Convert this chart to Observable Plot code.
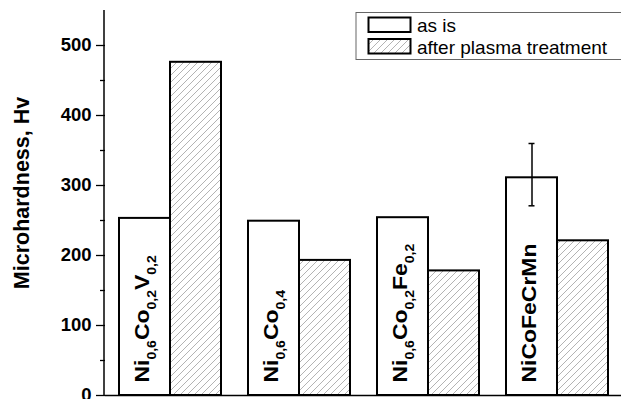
<!DOCTYPE html>
<html>
<head>
<meta charset="utf-8">
<script src="https://cdn.jsdelivr.net/npm/d3@7"></script>
<script src="https://cdn.jsdelivr.net/npm/@observablehq/plot@0.6"></script>
<style>
  html, body { margin: 0; padding: 0; background: white; }
  #chart { width: 621px; height: 399px; overflow: hidden; }
</style>
</head>
<body>
<div id="chart"></div>
<script>
// ---- data ----
const groups = ["Ni_{0,6}Co_{0,2}V_{0,2}", "Ni_{0,6}Co_{0,4}", "Ni_{0,6}Co_{0,2}Fe_{0,2}", "NiCoFeCrMn"];
const treatments = ["as is", "after plasma treatment"];
const asIs = [253, 249, 254, 311];
const afterPlasma = [476, 193, 178, 221];
const errorLow = [null, null, null, 271];
const errorHigh = [null, null, null, 360];
const majorTicks = [0, 100, 200, 300, 400, 500];
const minorTicks = [50, 150, 250, 350, 450];
const yLabel = "Microhardness, Hv";

// ---- tables ----
const rows = groups.flatMap((g, i) => [
  {group: g, treatment: treatments[0], value: asIs[i]},
  {group: g, treatment: treatments[1], value: afterPlasma[i]}
]);
const asRows = rows.filter(d => d.treatment === treatments[0]);
const afterRows = rows.filter(d => d.treatment === treatments[1]);
const errRows = groups.map((g, i) => ({group: g, treatment: treatments[0], low: errorLow[i], high: errorHigh[i]}))
  .filter(d => d.low != null);

const font = "'Liberation Sans', Arial, Helvetica, sans-serif";

const plot = Plot.plot({
  width: 621,
  height: 399,
  marginLeft: 104,
  marginRight: 0,
  marginTop: 10,
  marginBottom: 4,
  style: {fontFamily: font, background: "white", overflow: "visible"},
  fx: {domain: groups, padding: 0, axis: null, label: null},
  x: {domain: treatments, paddingInner: 0, paddingOuter: 0.243, axis: null, label: null},
  y: {domain: [0, 550], axis: null, label: null},
  marks: [
    Plot.barY(asRows, {fx: "group", x: "treatment", y: "value", fill: "white", stroke: "black", strokeWidth: 2}),
    Plot.barY(afterRows, {fx: "group", x: "treatment", y: "value", fill: "url(#hatch)", stroke: "black", strokeWidth: 2}),
    Plot.ruleX(errRows, {fx: "group", x: "treatment", y1: "low", y2: "high", stroke: "black", strokeWidth: 1.5}),
    Plot.tickY(errRows, {fx: "group", x: "treatment", y: "low", insetLeft: 22.5, insetRight: 22.5, stroke: "black", strokeWidth: 1.5}),
    Plot.tickY(errRows, {fx: "group", x: "treatment", y: "high", insetLeft: 22.5, insetRight: 22.5, stroke: "black", strokeWidth: 1.5}),
    Plot.text(asRows, {fx: "group", x: "treatment", y: 0, text: "group", rotate: -90, textAnchor: "start",
      dy: -13, dx: -3, fontSize: 20.5, fontWeight: "bold", fill: "black", className: "barlabel"}),
    Plot.ruleY([0], {stroke: "black", strokeWidth: 1.5}),
    Plot.axisY({ticks: majorTicks, tickSize: 9, tickPadding: 5, fontSize: 18.5, fontWeight: "bold",
      stroke: "black", strokeWidth: 1.3, fill: "black", label: null}),
    Plot.axisY({ticks: minorTicks, tickSize: 5, tickFormat: () => "", stroke: "black", strokeWidth: 1.3, label: null})
  ]
});

const svg = d3.select(plot);
const ns = "http://www.w3.org/2000/svg";

// hatch pattern
const defs = svg.insert("defs", ":first-child");
const pat = defs.append("pattern").attr("id", "hatch").attr("patternUnits", "userSpaceOnUse")
  .attr("width", 7).attr("height", 7);
pat.append("rect").attr("width", 7).attr("height", 7).attr("fill", "white");
pat.append("path").attr("d", "M-1,1 l2,-2 M0,7 l7,-7 M6,8 l2,-2")
  .attr("stroke", "#a0a0a0").attr("stroke-width", 0.8);

// rich bar labels with subscripts
plot.querySelectorAll(".barlabel text").forEach(t => {
  const s = t.textContent;
  const parts = s.split(/(_\{[^}]*\})/).filter(Boolean);
  t.textContent = "";
  let shifted = false;
  for (const p of parts) {
    const ts = document.createElementNS(ns, "tspan");
    if (p.startsWith("_{")) {
      ts.textContent = p.slice(2, -1);
      ts.setAttribute("font-size", 12.5);
      if (!shifted) ts.setAttribute("dy", 7);
      shifted = true;
    } else {
      ts.textContent = p;
      if (shifted) ts.setAttribute("dy", -7);
      shifted = false;
    }
    t.appendChild(ts);
  }
  const tr = t.getAttribute("transform");
  if (tr) t.setAttribute("transform", tr + " scale(1.12,1)");
});

// y axis line
const y = plot.scale("y");
const x0 = 104;
svg.append("line").attr("x1", x0).attr("x2", x0)
  .attr("y1", y.apply(0) + 0.75).attr("y2", y.apply(550))
  .attr("stroke", "black").attr("stroke-width", 1.5);

// y axis label
svg.append("text")
  .attr("transform", "translate(29,193) rotate(-90)")
  .attr("text-anchor", "middle")
  .attr("font-size", 21.5).attr("font-weight", "bold").attr("fill", "black")
  .attr("font-family", font)
  .text(yLabel);

// legend
const lg = svg.append("g").attr("font-family", font).attr("text-anchor", "start");
lg.append("rect").attr("x", 356).attr("y", 12.5).attr("width", 300).attr("height", 47)
  .attr("fill", "white").attr("stroke", "#666").attr("stroke-width", 1);
const swFill = ["white", "url(#hatch)"];
treatments.forEach((name, i) => {
  const yy = 17.5 + i * 21.5;
  lg.append("rect").attr("x", 368.5).attr("y", yy).attr("width", 42).attr("height", 14.5)
    .attr("fill", swFill[i]).attr("stroke", "black").attr("stroke-width", 2);
  lg.append("text").attr("x", 417).attr("y", yy + 14.5).attr("font-size", 19).attr("fill", "black")
    .attr("text-anchor", "start")
    .text(name);
});

document.getElementById("chart").appendChild(plot);
</script>
</body>
</html>
